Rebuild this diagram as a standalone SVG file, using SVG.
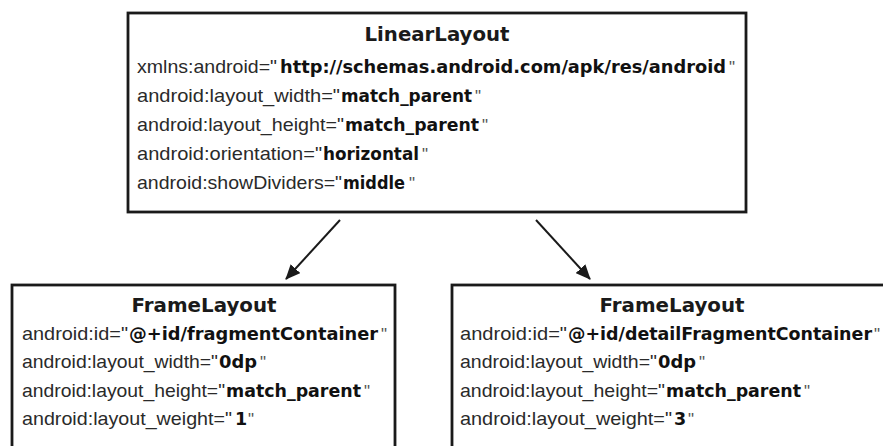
<svg xmlns="http://www.w3.org/2000/svg" width="883" height="446" viewBox="0 0 883 446">
<style>
.box{fill:#fff;stroke:#1a1a1a;stroke-width:2.8}
.t{font-family:"DejaVu Sans",Verdana,sans-serif;font-weight:bold;font-size:19.6px;fill:#1a1a1a;text-anchor:middle}
.r{font-family:"Liberation Sans",Arial,sans-serif;font-size:19px;fill:#2a2a2a}
.b{font-family:"DejaVu Sans",Verdana,sans-serif;font-weight:bold;font-size:17.5px;fill:#111}
.q{font-family:"Liberation Sans",Arial,sans-serif;font-size:17px;fill:#555}
.edge{stroke:#1a1a1a;stroke-width:2;fill:none;marker-end:url(#ah)}
</style>
<defs>
<marker id="ah" markerUnits="userSpaceOnUse" markerWidth="15" markerHeight="13" refX="14" refY="6.5" orient="auto">
<path d="M0,0 L15,6.5 L0,13 z" fill="#1a1a1a"/>
</marker>
</defs>
<rect width="883" height="446" fill="#fff"/>
<g id="linearLayout">
<rect class="box" x="128" y="13" width="618" height="199"/>
<text class="t" x="437" y="41" textLength="145" lengthAdjust="spacingAndGlyphs">LinearLayout</text>
<text class="r" x="137" y="73"><tspan textLength="140" lengthAdjust="spacingAndGlyphs">xmlns:android="</tspan><tspan class="b" x="280" textLength="446" lengthAdjust="spacingAndGlyphs">http://schemas.android.com/apk/res/android</tspan><tspan class="q" x="729">"</tspan></text>
<text class="r" x="137" y="102"><tspan textLength="203" lengthAdjust="spacingAndGlyphs">android:layout_width="</tspan><tspan class="b" x="341" textLength="131" lengthAdjust="spacingAndGlyphs">match_parent</tspan><tspan class="q" x="475">"</tspan></text>
<text class="r" x="137" y="131"><tspan textLength="207" lengthAdjust="spacingAndGlyphs">android:layout_height="</tspan><tspan class="b" x="345" textLength="134" lengthAdjust="spacingAndGlyphs">match_parent</tspan><tspan class="q" x="482">"</tspan></text>
<text class="r" x="137" y="160"><tspan textLength="185" lengthAdjust="spacingAndGlyphs">android:orientation="</tspan><tspan class="b" x="323" textLength="96" lengthAdjust="spacingAndGlyphs">horizontal</tspan><tspan class="q" x="422">"</tspan></text>
<text class="r" x="137" y="189"><tspan textLength="205" lengthAdjust="spacingAndGlyphs">android:showDividers="</tspan><tspan class="b" x="343" textLength="62" lengthAdjust="spacingAndGlyphs">middle</tspan><tspan class="q" x="409">"</tspan></text>
</g>
<g id="frameLayoutLeft">
<rect class="box" x="12" y="285" width="383" height="180"/>
<text class="t" x="204" y="312" textLength="145" lengthAdjust="spacingAndGlyphs">FrameLayout</text>
<text class="r" x="22" y="340"><tspan textLength="106" lengthAdjust="spacingAndGlyphs">android:id="</tspan><tspan class="b" x="129" textLength="249" lengthAdjust="spacingAndGlyphs">@+id/fragmentContainer</tspan><tspan class="q" x="381">"</tspan></text>
<text class="r" x="22" y="368"><tspan textLength="196" lengthAdjust="spacingAndGlyphs">android:layout_width="</tspan><tspan class="b" x="219" textLength="38" lengthAdjust="spacingAndGlyphs">0dp</tspan><tspan class="q" x="260">"</tspan></text>
<text class="r" x="22" y="397"><tspan textLength="203" lengthAdjust="spacingAndGlyphs">android:layout_height="</tspan><tspan class="b" x="226" textLength="135" lengthAdjust="spacingAndGlyphs">match_parent</tspan><tspan class="q" x="364">"</tspan></text>
<text class="r" x="22" y="425"><tspan textLength="210" lengthAdjust="spacingAndGlyphs">android:layout_weight="</tspan><tspan class="b" x="235">1</tspan><tspan class="q" x="248">"</tspan></text>
</g>
<g id="frameLayoutRight">
<rect class="box" x="452" y="285" width="440" height="180"/>
<text class="t" x="672" y="312" textLength="145" lengthAdjust="spacingAndGlyphs">FrameLayout</text>
<text class="r" x="460" y="340"><tspan textLength="107" lengthAdjust="spacingAndGlyphs">android:id="</tspan><tspan class="b" x="568" textLength="304" lengthAdjust="spacingAndGlyphs">@+id/detailFragmentContainer</tspan><tspan class="q" x="874">"</tspan></text>
<text class="r" x="460" y="368"><tspan textLength="197" lengthAdjust="spacingAndGlyphs">android:layout_width="</tspan><tspan class="b" x="658" textLength="38" lengthAdjust="spacingAndGlyphs">0dp</tspan><tspan class="q" x="699">"</tspan></text>
<text class="r" x="460" y="397"><tspan textLength="205" lengthAdjust="spacingAndGlyphs">android:layout_height="</tspan><tspan class="b" x="666" textLength="135" lengthAdjust="spacingAndGlyphs">match_parent</tspan><tspan class="q" x="804">"</tspan></text>
<text class="r" x="460" y="425"><tspan textLength="212" lengthAdjust="spacingAndGlyphs">android:layout_weight="</tspan><tspan class="b" x="674">3</tspan><tspan class="q" x="688">"</tspan></text>
</g>
<g id="connectors">
<line class="edge" x1="340" y1="220" x2="286" y2="279"/>
<line class="edge" x1="536" y1="220" x2="590" y2="279"/>
</g>
</svg>
